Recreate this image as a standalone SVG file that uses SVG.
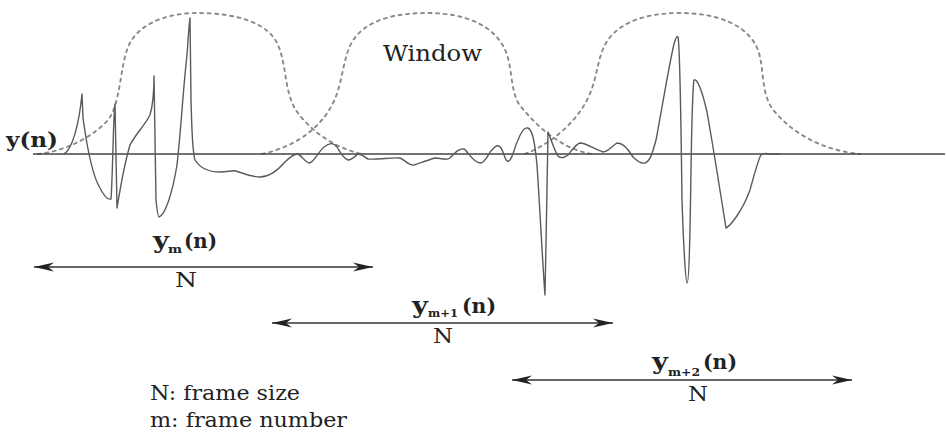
<svg xmlns="http://www.w3.org/2000/svg" width="946" height="433" viewBox="0 0 946 433">
<style>
.win{fill:none;stroke:#8a8a8a;stroke-width:1.9;stroke-dasharray:3 4.5;stroke-linecap:round}
.base{stroke:#444;stroke-width:1.5;fill:none}
.wave{fill:none;stroke:#5a5a5a;stroke-width:1.4;stroke-linejoin:round}
.arr{stroke:#333;stroke-width:1.6;fill:none;marker-start:url(#ah);marker-end:url(#ah)}
.t{font-family:"DejaVu Serif","Liberation Serif",serif;fill:#222}
.ly{font-family:"DejaVu Serif","Liberation Serif",serif;fill:#222;font-weight:bold;font-size:22px}
.lb{font-family:"DejaVu Serif","Liberation Serif",serif;fill:#222;font-weight:bold;font-size:20px}
.sb{font-family:"DejaVu Serif","Liberation Serif",serif;fill:#222;font-weight:bold;font-size:11px}
</style>
<defs>
<marker id="ah" markerUnits="userSpaceOnUse" markerWidth="24" markerHeight="12" viewBox="-21 -6 22 12" refX="0" refY="0" orient="auto-start-reverse">
<path d="M0,0 L-20,-4.5 L-14,0 L-20,4.5 Z" fill="#222"/>
</marker>
</defs>
<g id="windows">
<path class="win" d="M38,154 C60,152 90,140 108,120 C120,105 120,70 127,50 C135,25 165,13 197,13 C235,13 268,22 278,45 C287,65 284,95 298,113 C312,132 335,148 362,154"/>
<path class="win" d="M262,154 C290,148 318,132 332,105 C343,85 342,60 352,42 C365,20 395,13 427,13 C465,13 495,25 506,52 C513,70 510,95 522,108 C540,130 565,150 592,154"/>
<path class="win" d="M525,154 C548,145 575,125 588,98 C598,78 597,55 608,40 C622,20 650,13 680,13 C718,13 748,25 758,50 C765,70 760,95 775,112 C792,132 820,150 860,154"/>
</g>
<g id="axis">
<line class="base" x1="33" y1="154" x2="945" y2="154"/>
</g>
<g id="signal">
<path class="wave" d="M64,154 C72,150 79,125 82,94 L83,118 C86,140 92,175 100,188 C104,196 108,200 111,199 C113,170 113,120 115,104 L117,208 C120,190 124,165 130,145 C135,135 145,125 150,115 C153,105 154,90 154,76 L156,200 C157,210 158,217 159,217 C165,215 172,195 177,165 C181,130 183,90 187,55 C188,40 189,25 190,18 L191,100 C192,130 192,150 195,160 C200,168 208,172 220,172 C228,172 232,170 236,171 C245,174 252,177 260,177 C270,177 278,170 285,162 C290,157 294,154 298,154 C302,156 305,162 309,163 C314,163 318,152 324,147 C329,143 333,142 337,147 C340,152 343,158 348,160 C352,160 355,156 358,154 C362,154 364,157 368,159 C378,160 392,157 400,158 C405,160 409,166 414,165 C420,163 428,160 435,158 C442,158 446,161 450,158 C455,153 459,148 464,149 C468,151 472,162 480,163 C486,163 488,153 492,150 C495,146 498,144 501,148 C504,152 505,163 509,161 C513,158 514,148 518,140 C521,132 524,127 528,128 C533,130 535,145 537,165 C540,210 543,270 545,295 C546,260 547,180 548,132 C550,136 554,150 558,156 C561,159 564,158 568,155 C572,150 576,144 580,143 C586,143 594,149 603,152 C608,152 612,146 617,143 C622,143 626,146 633,157 C637,161 641,164 645,163 C650,161 652,155 656,140 C660,120 668,70 674,44 C676,37 677,36 678,37 C680,45 681,120 682,200 C684,260 686,283 687,283 C689,283 690,240 691,170 C692,110 693,85 694,80 C697,78 702,90 707,112 C712,140 720,190 726,228 C730,226 742,212 750,190 C755,172 758,160 761,155 C763,153 766,153 770,154 L780,154"/>
</g>
<g id="label-yn">
<text class="t" x="6" y="147" font-size="21" font-weight="bold" textLength="52" lengthAdjust="spacingAndGlyphs">y(n)</text>
</g>
<g id="label-window">
<text class="t" x="383" y="61" font-size="22" textLength="99" lengthAdjust="spacingAndGlyphs">Window</text>
</g>
<g id="connectors">
<line class="arr" x1="34" y1="267" x2="373" y2="267"/>
<line class="arr" x1="272" y1="323" x2="613" y2="323"/>
<line class="arr" x1="512" y1="380" x2="852" y2="380"/>
</g>
<g id="frame-m">
<text class="ly" x="153" y="248" textLength="16" lengthAdjust="spacingAndGlyphs">y</text>
<text class="sb" x="168" y="253" textLength="14" lengthAdjust="spacingAndGlyphs">m</text>
<text class="lb" x="184" y="248" textLength="33" lengthAdjust="spacingAndGlyphs">(n)</text>
<text class="t" x="175" y="287" font-size="20" textLength="22" lengthAdjust="spacingAndGlyphs">N</text>
</g>
<g id="frame-m1">
<text class="ly" x="412" y="313" textLength="16" lengthAdjust="spacingAndGlyphs">y</text>
<text class="sb" x="428" y="317" textLength="30" lengthAdjust="spacingAndGlyphs">m+1</text>
<text class="lb" x="462" y="313" textLength="34" lengthAdjust="spacingAndGlyphs">(n)</text>
<text class="t" x="433" y="343" font-size="20" textLength="20" lengthAdjust="spacingAndGlyphs">N</text>
</g>
<g id="frame-m2">
<text class="ly" x="652" y="369" textLength="16" lengthAdjust="spacingAndGlyphs">y</text>
<text class="sb" x="668" y="376" textLength="32" lengthAdjust="spacingAndGlyphs">m+2</text>
<text class="lb" x="703" y="369" textLength="34" lengthAdjust="spacingAndGlyphs">(n)</text>
<text class="t" x="688" y="401" font-size="20" textLength="20" lengthAdjust="spacingAndGlyphs">N</text>
</g>
<g id="legend">
<text class="t" x="150" y="400" font-size="20" textLength="150" lengthAdjust="spacingAndGlyphs">N: frame size</text>
<text class="t" x="150" y="427" font-size="20" textLength="197" lengthAdjust="spacingAndGlyphs">m: frame number</text>
</g>
</svg>
